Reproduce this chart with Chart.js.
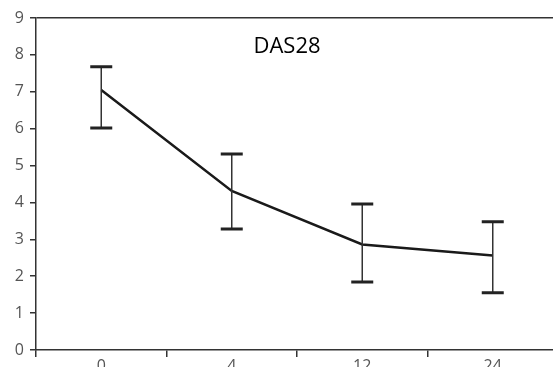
<!DOCTYPE html>
<html>
<head>
<meta charset="utf-8">
<script src="https://cdn.jsdelivr.net/npm/chart.js@4"></script>
<style>
  html, body { margin: 0; padding: 0; overflow: hidden; background: #fff; }
</style>
</head>
<body>
<canvas id="myChart" width="560" height="380"></canvas>
<script>
// weeks
const labels = ['0', '4', '12', '24'];
// DAS28 mean and error bar ends
const das28 = [7.05, 4.31, 2.86, 2.56];
const upper = [7.68, 5.31, 3.96, 3.48];
const lower = [6.02, 3.28, 1.84, 1.55];

const errorBars = {
    id: 'errorBars',
    afterDatasetsDraw(chart) {
        const c = chart.ctx;
        const x = chart.scales.x;
        const y = chart.scales.y;
        c.save();
        for (let i = 0; i < labels.length; i++) {
            const px = x.getPixelForValue(i);
            const top = y.getPixelForValue(upper[i]);
            const bot = y.getPixelForValue(lower[i]);
            c.strokeStyle = '#333';
            c.lineWidth = 1.5;
            c.beginPath();
            c.moveTo(px, top);
            c.lineTo(px, bot);
            c.stroke();
            c.strokeStyle = '#222';
            c.lineWidth = 3;
            c.beginPath();
            c.moveTo(px - 11, top);
            c.lineTo(px + 11, top);
            c.moveTo(px - 11, bot);
            c.lineTo(px + 11, bot);
            c.stroke();
        }
        // title inside plot
        c.fillStyle = '#000';
        c.font = '22px "Open Sans"';
        c.textAlign = 'center';
        c.textBaseline = 'alphabetic';
        c.fillText('DAS28', 287, 53);
        c.restore();
    }
};

const ctx = document.getElementById('myChart');

new Chart(ctx, {
    type: 'line',
    data: {
        labels: labels,
        datasets: [{
            data: das28,
            borderColor: '#1a1a1a',
            borderWidth: 2.5,
            pointRadius: 0,
            tension: 0
        }]
    },
    options: {
        responsive: false,
        animation: false,
        layout: { padding: { top: 18, right: 2, left: 0, bottom: 0 } },
        plugins: {
            legend: { display: false },
            tooltip: { enabled: false }
        },
        scales: {
            x: {
                offset: true,
                afterFit: s => { s.height = 30; },
                grid: {
                    offset: true,
                    drawOnChartArea: false,
                    tickLength: 7,
                    tickColor: '#333',
                    lineWidth: 1.5
                },
                border: { display: true, color: '#333', width: 1.5 },
                ticks: {
                    color: '#555',
                    padding: 0,
                    maxRotation: 0,
                    font: { family: 'Open Sans', size: 16 }
                }
            },
            y: {
                min: 0,
                max: 9,
                afterFit: s => { s.width = 36; },
                grid: {
                    color: c => c.tick && c.tick.value === 9 ? '#333' : 'rgba(0,0,0,0)',
                    tickColor: '#333',
                    tickLength: 6,
                    lineWidth: 1.5
                },
                border: { display: true, color: '#333', width: 1.5 },
                ticks: {
                    stepSize: 1,
                    color: '#555',
                    padding: 6,
                    font: { family: 'Open Sans', size: 16 }
                }
            }
        }
    },
    plugins: [errorBars]
});
</script>
</body>
</html>
